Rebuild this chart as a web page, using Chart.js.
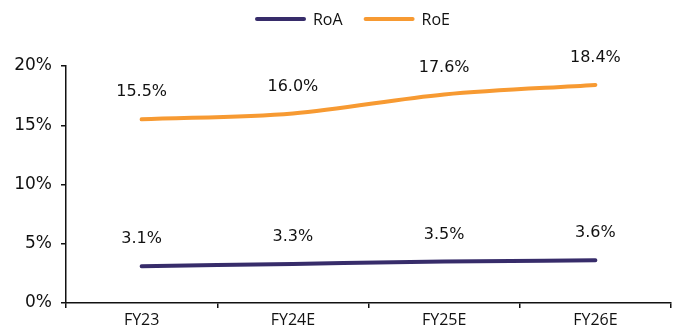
<!DOCTYPE html>
<html>
<head>
<meta charset="utf-8">
<script src="https://cdn.jsdelivr.net/npm/chart.js@4"></script>
<style>
  html, body { margin: 0; padding: 0; background: #ffffff; }
  #wrap { width: 683px; height: 334px; position: relative; }
</style>
</head>
<body>
<div id="wrap"><canvas id="c" width="683" height="334"></canvas></div>
<script>
// Return ratios by fiscal year (%)
const categories = ["FY23", "FY24E", "FY25E", "FY26E"];
const roa = [3.1, 3.3, 3.5, 3.6];
const roe = [15.5, 16.0, 17.6, 18.4];
const yTicks = [0, 5, 10, 15, 20];

const COLOR_ROA = "#372c6a";
const COLOR_ROE = "#f79a32";
const TEXT = "#111111";

// Writes each point's value above it
const valueLabels = {
  id: "valueLabels",
  afterDatasetsDraw(chart) {
    const ctx = chart.ctx;
    ctx.save();
    ctx.fillStyle = TEXT;
    ctx.font = "16px 'DejaVu Sans', Verdana, sans-serif";
    ctx.textAlign = "center";
    ctx.textBaseline = "middle";
    chart.data.datasets.forEach((ds, i) => {
      const meta = chart.getDatasetMeta(i);
      meta.data.forEach((pt, j) => {
        ctx.fillText(ds.data[j].toFixed(1) + "%", pt.x, pt.y - 27);
      });
    });
    ctx.restore();
  }
};

// Legend row at the top: a short line sample followed by the series name
const lineLegend = {
  id: "lineLegend",
  afterDraw(chart) {
    const ctx = chart.ctx;
    const sample = 51, gapText = 7, gapItem = 21, y = 19;
    ctx.save();
    ctx.font = "16px 'Open Sans', sans-serif";
    const items = chart.data.datasets.map(ds => ({
      text: ds.label, color: ds.borderColor, w: ctx.measureText(ds.label).width
    }));
    const total = items.reduce((s, it) => s + sample + gapText + it.w, 0) + gapItem * (items.length - 1);
    let x = chart.width / 2 + 11 - total / 2;
    ctx.textBaseline = "middle";
    ctx.textAlign = "left";
    items.forEach(it => {
      ctx.strokeStyle = it.color;
      ctx.lineWidth = 4;
      ctx.lineCap = "round";
      ctx.beginPath();
      ctx.moveTo(x + 2, y);
      ctx.lineTo(x + sample - 2, y);
      ctx.stroke();
      x += sample + gapText;
      ctx.fillStyle = TEXT;
      ctx.fillText(it.text, x, y + 1);
      x += it.w + gapItem;
    });
    ctx.restore();
  }
};

new Chart(document.getElementById("c"), {
  type: "line",
  data: {
    labels: categories,
    datasets: [
      { label: "RoA", data: roa, borderColor: COLOR_ROA, backgroundColor: COLOR_ROA,
        borderWidth: 4, pointRadius: 0, cubicInterpolationMode: "monotone", borderCapStyle: "round" },
      { label: "RoE", data: roe, borderColor: COLOR_ROE, backgroundColor: COLOR_ROE,
        borderWidth: 4, pointRadius: 0, cubicInterpolationMode: "monotone", borderCapStyle: "round" }
    ]
  },
  options: {
    responsive: false,
    animation: false,
    layout: { padding: { left: 0, right: 12, top: 66, bottom: 0 } },
    plugins: {
      tooltip: { enabled: false },
      legend: { display: false }
    },
    scales: {
      x: {
        type: "category",
        offset: true,
        border: { display: true, color: TEXT, width: 1.5 },
        grid: { display: true, offset: true, drawOnChartArea: false, drawTicks: true,
                tickLength: 5, color: TEXT, lineWidth: 1.5 },
        ticks: { color: TEXT, font: { family: "'Open Sans', sans-serif", size: 16 }, padding: 3 },
        afterFit(scale) { scale.height = 31; }
      },
      y: {
        min: 0,
        max: 20,
        afterBuildTicks(scale) { scale.ticks = yTicks.map(v => ({ value: v })); },
        border: { display: true, color: TEXT, width: 1.5 },
        grid: { display: true, drawOnChartArea: false, drawTicks: true,
                tickLength: 5, color: TEXT, lineWidth: 1.5 },
        ticks: {
          color: TEXT,
          font: { family: "'DejaVu Sans', Verdana, sans-serif", size: 17 },
          padding: 9,
          callback: v => v + "%"
        },
        afterFit(scale) { scale.width = 66; }
      }
    }
  },
  plugins: [valueLabels, lineLegend]
});
</script>
</body>
</html>
